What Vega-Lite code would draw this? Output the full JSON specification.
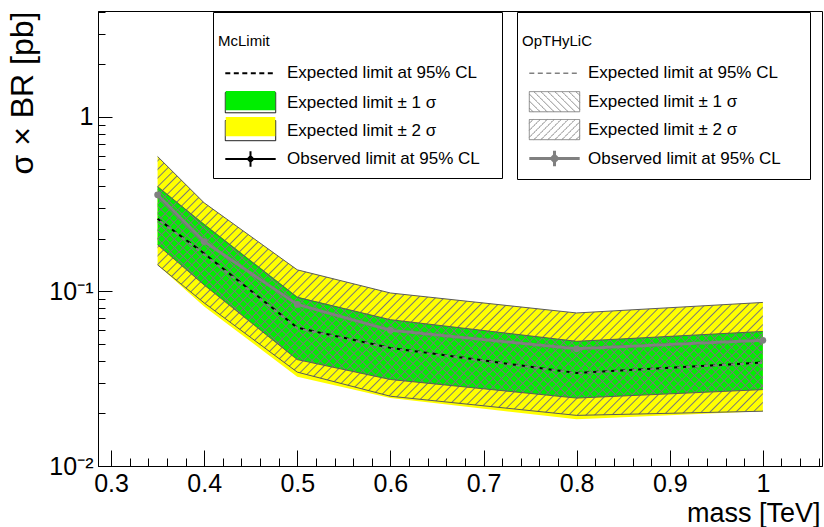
{
"$schema": "https://vega.github.io/schema/vega-lite/v6.json",
"width": 724,
"height": 455,
"autosize": {"type": "none"},
"padding": {"left": 98, "top": 11, "right": 2, "bottom": 61},
"background": "white",
"data": {"values": [
{"mass":0.35,"mc_2lo":0.142,"mc_1lo":0.185,"mc_exp":0.261,"mc_obs":0.358,"mc_1hi":0.399,"mc_2hi":0.593,"op_2lo":0.142,"op_1lo":0.185,"op_exp":0.259,"op_obs":0.358,"op_1hi":0.399,"op_2hi":0.593},
{"mass":0.4,"mc_2lo":0.082,"mc_1lo":0.109,"mc_exp":0.165,"mc_obs":0.193,"mc_1hi":0.244,"mc_2hi":0.322,"op_2lo":0.086,"op_1lo":0.109,"op_exp":0.163,"op_obs":0.193,"op_1hi":0.241,"op_2hi":0.322},
{"mass":0.5,"mc_2lo":0.0325,"mc_1lo":0.0407,"mc_exp":0.062,"mc_obs":0.0843,"mc_1hi":0.0933,"mc_2hi":0.133,"op_2lo":0.0345,"op_1lo":0.0407,"op_exp":0.0615,"op_obs":0.0843,"op_1hi":0.0925,"op_2hi":0.133},
{"mass":0.6,"mc_2lo":0.0245,"mc_1lo":0.0313,"mc_exp":0.0475,"mc_obs":0.0599,"mc_1hi":0.0689,"mc_2hi":0.098,"op_2lo":0.0251,"op_1lo":0.0313,"op_exp":0.0472,"op_obs":0.0599,"op_1hi":0.0689,"op_2hi":0.098},
{"mass":0.8,"mc_2lo":0.0185,"mc_1lo":0.0245,"mc_exp":0.0341,"mc_obs":0.0469,"mc_1hi":0.0518,"mc_2hi":0.0753,"op_2lo":0.0195,"op_1lo":0.0245,"op_exp":0.034,"op_obs":0.0469,"op_1hi":0.0518,"op_2hi":0.0753},
{"mass":1.0,"mc_2lo":0.0206,"mc_1lo":0.0274,"mc_exp":0.0392,"mc_obs":0.0525,"mc_1hi":0.059,"mc_2hi":0.0865,"op_2lo":0.0206,"op_1lo":0.0274,"op_exp":0.039,"op_obs":0.0525,"op_1hi":0.059,"op_2hi":0.0865}
]},
"resolve": {"scale": {"fill": "independent", "stroke": "independent", "shape": "independent", "strokeDash": "independent", "strokeWidth": "independent"}},
"layer": [
{"mark": {"type": "area", "fill": "#ffff00"},
 "encoding": {
  "x": {"field": "mass", "type": "quantitative", "scale": {"domain": [0.286, 1.0635], "nice": false, "zero": false}, "title": "mass [TeV]",
   "axis": {"values": [0.3,0.32,0.34,0.36,0.38,0.4,0.42,0.44,0.46,0.48,0.5,0.52,0.54,0.56,0.58,0.6,0.62,0.64,0.66,0.68,0.7,0.72,0.74,0.76,0.78,0.8,0.82,0.84,0.86,0.88,0.9,0.92,0.94,0.96,0.98,1,1.02,1.04,1.06],
    "tickCount": 200,
    "labelExpr": "abs(datum.value*10-round(datum.value*10))<0.001 ? format(datum.value, '.1~f') : ''",
    "labelOverlap": false,
    "tickSize": {"condition": {"test": "abs(datum.value*10-round(datum.value*10))<0.001", "value": -16}, "value": -8},
    "labelPadding": 21, "titleAlign": "right", "titleAnchor": "end", "titleBaseline": "alphabetic", "titleX": 722, "titleY": 55, "titleFontSize": 27}},
  "y": {"field": "mc_2lo", "type": "quantitative", "scale": {"type": "log", "domain": [0.01, 4.044], "nice": false}, "title": "σ × BR [pb]",
   "axis": {"values": [0.01,0.02,0.03,0.04,0.05,0.06,0.07,0.08,0.09,0.1,0.2,0.3,0.4,0.5,0.6,0.7,0.8,0.9,1,2,3,4],
    "tickCount": 200,
    "labelExpr": "datum.value === 1 ? '1' : datum.value === 0.1 ? '10⁻¹' : datum.value === 0.01 ? '10⁻²' : ''",
    "labelOverlap": false,
    "tickSize": {"condition": {"test": "datum.value === 1 || datum.value === 0.1 || datum.value === 0.01", "value": -14}, "value": -7},
    "labelPadding": 19, "titleAngle": -90, "titleAlign": "right", "titleAnchor": "end", "titleBaseline": "middle", "titleX": -76, "titleY": 0, "titleFontSize": 32}},
  "y2": {"field": "mc_2hi"}}},
{"mark": {"type": "area", "fill": "#00ee00"},
 "encoding": {
  "x": {"field": "mass", "type": "quantitative", "scale": {"domain": [0.286, 1.0635], "nice": false, "zero": false}, "title": "mass [TeV]"},
  "y": {"field": "mc_1lo", "type": "quantitative", "scale": {"type": "log", "domain": [0.01, 4.044], "nice": false}, "title": "σ × BR [pb]"},
  "y2": {"field": "mc_1hi"}}},
{"mark": {"type": "area", "fill": {"gradient": "linear", "x1": 0, "y1": 0, "x2": 1.2069, "y2": 0.5162, "stops": [
{"offset":0.0034,"color":"#7770"},{"offset":0.005,"color":"#777"},{"offset":0.0066,"color":"#7770"},
{"offset":0.0134,"color":"#7770"},{"offset":0.015,"color":"#777"},{"offset":0.0166,"color":"#7770"},
{"offset":0.0234,"color":"#7770"},{"offset":0.025,"color":"#777"},{"offset":0.0266,"color":"#7770"},
{"offset":0.0334,"color":"#7770"},{"offset":0.035,"color":"#777"},{"offset":0.0366,"color":"#7770"},
{"offset":0.0434,"color":"#7770"},{"offset":0.045,"color":"#777"},{"offset":0.0466,"color":"#7770"},
{"offset":0.0534,"color":"#7770"},{"offset":0.055,"color":"#777"},{"offset":0.0566,"color":"#7770"},
{"offset":0.0634,"color":"#7770"},{"offset":0.065,"color":"#777"},{"offset":0.0666,"color":"#7770"},
{"offset":0.0734,"color":"#7770"},{"offset":0.075,"color":"#777"},{"offset":0.0766,"color":"#7770"},
{"offset":0.0834,"color":"#7770"},{"offset":0.085,"color":"#777"},{"offset":0.0866,"color":"#7770"},
{"offset":0.0934,"color":"#7770"},{"offset":0.095,"color":"#777"},{"offset":0.0966,"color":"#7770"},
{"offset":0.1034,"color":"#7770"},{"offset":0.105,"color":"#777"},{"offset":0.1066,"color":"#7770"},
{"offset":0.1134,"color":"#7770"},{"offset":0.115,"color":"#777"},{"offset":0.1166,"color":"#7770"},
{"offset":0.1234,"color":"#7770"},{"offset":0.125,"color":"#777"},{"offset":0.1266,"color":"#7770"},
{"offset":0.1334,"color":"#7770"},{"offset":0.135,"color":"#777"},{"offset":0.1366,"color":"#7770"},
{"offset":0.1434,"color":"#7770"},{"offset":0.145,"color":"#777"},{"offset":0.1466,"color":"#7770"},
{"offset":0.1534,"color":"#7770"},{"offset":0.155,"color":"#777"},{"offset":0.1566,"color":"#7770"},
{"offset":0.1634,"color":"#7770"},{"offset":0.165,"color":"#777"},{"offset":0.1666,"color":"#7770"},
{"offset":0.1734,"color":"#7770"},{"offset":0.175,"color":"#777"},{"offset":0.1766,"color":"#7770"},
{"offset":0.1834,"color":"#7770"},{"offset":0.185,"color":"#777"},{"offset":0.1866,"color":"#7770"},
{"offset":0.1934,"color":"#7770"},{"offset":0.195,"color":"#777"},{"offset":0.1966,"color":"#7770"},
{"offset":0.2034,"color":"#7770"},{"offset":0.205,"color":"#777"},{"offset":0.2066,"color":"#7770"},
{"offset":0.2134,"color":"#7770"},{"offset":0.215,"color":"#777"},{"offset":0.2166,"color":"#7770"},
{"offset":0.2234,"color":"#7770"},{"offset":0.225,"color":"#777"},{"offset":0.2266,"color":"#7770"},
{"offset":0.2334,"color":"#7770"},{"offset":0.235,"color":"#777"},{"offset":0.2366,"color":"#7770"},
{"offset":0.2434,"color":"#7770"},{"offset":0.245,"color":"#777"},{"offset":0.2466,"color":"#7770"},
{"offset":0.2534,"color":"#7770"},{"offset":0.255,"color":"#777"},{"offset":0.2566,"color":"#7770"},
{"offset":0.2634,"color":"#7770"},{"offset":0.265,"color":"#777"},{"offset":0.2666,"color":"#7770"},
{"offset":0.2734,"color":"#7770"},{"offset":0.275,"color":"#777"},{"offset":0.2766,"color":"#7770"},
{"offset":0.2834,"color":"#7770"},{"offset":0.285,"color":"#777"},{"offset":0.2866,"color":"#7770"},
{"offset":0.2934,"color":"#7770"},{"offset":0.295,"color":"#777"},{"offset":0.2966,"color":"#7770"},
{"offset":0.3034,"color":"#7770"},{"offset":0.305,"color":"#777"},{"offset":0.3066,"color":"#7770"},
{"offset":0.3134,"color":"#7770"},{"offset":0.315,"color":"#777"},{"offset":0.3166,"color":"#7770"},
{"offset":0.3234,"color":"#7770"},{"offset":0.325,"color":"#777"},{"offset":0.3266,"color":"#7770"},
{"offset":0.3334,"color":"#7770"},{"offset":0.335,"color":"#777"},{"offset":0.3366,"color":"#7770"},
{"offset":0.3434,"color":"#7770"},{"offset":0.345,"color":"#777"},{"offset":0.3466,"color":"#7770"},
{"offset":0.3534,"color":"#7770"},{"offset":0.355,"color":"#777"},{"offset":0.3566,"color":"#7770"},
{"offset":0.3634,"color":"#7770"},{"offset":0.365,"color":"#777"},{"offset":0.3666,"color":"#7770"},
{"offset":0.3734,"color":"#7770"},{"offset":0.375,"color":"#777"},{"offset":0.3766,"color":"#7770"},
{"offset":0.3834,"color":"#7770"},{"offset":0.385,"color":"#777"},{"offset":0.3866,"color":"#7770"},
{"offset":0.3934,"color":"#7770"},{"offset":0.395,"color":"#777"},{"offset":0.3966,"color":"#7770"},
{"offset":0.4034,"color":"#7770"},{"offset":0.405,"color":"#777"},{"offset":0.4066,"color":"#7770"},
{"offset":0.4134,"color":"#7770"},{"offset":0.415,"color":"#777"},{"offset":0.4166,"color":"#7770"},
{"offset":0.4234,"color":"#7770"},{"offset":0.425,"color":"#777"},{"offset":0.4266,"color":"#7770"},
{"offset":0.4334,"color":"#7770"},{"offset":0.435,"color":"#777"},{"offset":0.4366,"color":"#7770"},
{"offset":0.4434,"color":"#7770"},{"offset":0.445,"color":"#777"},{"offset":0.4466,"color":"#7770"},
{"offset":0.4534,"color":"#7770"},{"offset":0.455,"color":"#777"},{"offset":0.4566,"color":"#7770"},
{"offset":0.4634,"color":"#7770"},{"offset":0.465,"color":"#777"},{"offset":0.4666,"color":"#7770"},
{"offset":0.4734,"color":"#7770"},{"offset":0.475,"color":"#777"},{"offset":0.4766,"color":"#7770"},
{"offset":0.4834,"color":"#7770"},{"offset":0.485,"color":"#777"},{"offset":0.4866,"color":"#7770"},
{"offset":0.4934,"color":"#7770"},{"offset":0.495,"color":"#777"},{"offset":0.4966,"color":"#7770"},
{"offset":0.5034,"color":"#7770"},{"offset":0.505,"color":"#777"},{"offset":0.5066,"color":"#7770"},
{"offset":0.5134,"color":"#7770"},{"offset":0.515,"color":"#777"},{"offset":0.5166,"color":"#7770"},
{"offset":0.5234,"color":"#7770"},{"offset":0.525,"color":"#777"},{"offset":0.5266,"color":"#7770"},
{"offset":0.5334,"color":"#7770"},{"offset":0.535,"color":"#777"},{"offset":0.5366,"color":"#7770"},
{"offset":0.5434,"color":"#7770"},{"offset":0.545,"color":"#777"},{"offset":0.5466,"color":"#7770"},
{"offset":0.5534,"color":"#7770"},{"offset":0.555,"color":"#777"},{"offset":0.5566,"color":"#7770"},
{"offset":0.5634,"color":"#7770"},{"offset":0.565,"color":"#777"},{"offset":0.5666,"color":"#7770"},
{"offset":0.5734,"color":"#7770"},{"offset":0.575,"color":"#777"},{"offset":0.5766,"color":"#7770"},
{"offset":0.5834,"color":"#7770"},{"offset":0.585,"color":"#777"},{"offset":0.5866,"color":"#7770"},
{"offset":0.5934,"color":"#7770"},{"offset":0.595,"color":"#777"},{"offset":0.5966,"color":"#7770"},
{"offset":0.6034,"color":"#7770"},{"offset":0.605,"color":"#777"},{"offset":0.6066,"color":"#7770"},
{"offset":0.6134,"color":"#7770"},{"offset":0.615,"color":"#777"},{"offset":0.6166,"color":"#7770"},
{"offset":0.6234,"color":"#7770"},{"offset":0.625,"color":"#777"},{"offset":0.6266,"color":"#7770"},
{"offset":0.6334,"color":"#7770"},{"offset":0.635,"color":"#777"},{"offset":0.6366,"color":"#7770"},
{"offset":0.6434,"color":"#7770"},{"offset":0.645,"color":"#777"},{"offset":0.6466,"color":"#7770"},
{"offset":0.6534,"color":"#7770"},{"offset":0.655,"color":"#777"},{"offset":0.6566,"color":"#7770"},
{"offset":0.6634,"color":"#7770"},{"offset":0.665,"color":"#777"},{"offset":0.6666,"color":"#7770"},
{"offset":0.6734,"color":"#7770"},{"offset":0.675,"color":"#777"},{"offset":0.6766,"color":"#7770"},
{"offset":0.6834,"color":"#7770"},{"offset":0.685,"color":"#777"},{"offset":0.6866,"color":"#7770"},
{"offset":0.6934,"color":"#7770"},{"offset":0.695,"color":"#777"},{"offset":0.6966,"color":"#7770"},
{"offset":0.7034,"color":"#7770"},{"offset":0.705,"color":"#777"},{"offset":0.7066,"color":"#7770"},
{"offset":0.7134,"color":"#7770"},{"offset":0.715,"color":"#777"},{"offset":0.7166,"color":"#7770"},
{"offset":0.7234,"color":"#7770"},{"offset":0.725,"color":"#777"},{"offset":0.7266,"color":"#7770"},
{"offset":0.7334,"color":"#7770"},{"offset":0.735,"color":"#777"},{"offset":0.7366,"color":"#7770"},
{"offset":0.7434,"color":"#7770"},{"offset":0.745,"color":"#777"},{"offset":0.7466,"color":"#7770"},
{"offset":0.7534,"color":"#7770"},{"offset":0.755,"color":"#777"},{"offset":0.7566,"color":"#7770"},
{"offset":0.7634,"color":"#7770"},{"offset":0.765,"color":"#777"},{"offset":0.7666,"color":"#7770"},
{"offset":0.7734,"color":"#7770"},{"offset":0.775,"color":"#777"},{"offset":0.7766,"color":"#7770"},
{"offset":0.7834,"color":"#7770"},{"offset":0.785,"color":"#777"},{"offset":0.7866,"color":"#7770"},
{"offset":0.7934,"color":"#7770"},{"offset":0.795,"color":"#777"},{"offset":0.7966,"color":"#7770"},
{"offset":0.8034,"color":"#7770"},{"offset":0.805,"color":"#777"},{"offset":0.8066,"color":"#7770"},
{"offset":0.8134,"color":"#7770"},{"offset":0.815,"color":"#777"},{"offset":0.8166,"color":"#7770"},
{"offset":0.8234,"color":"#7770"},{"offset":0.825,"color":"#777"},{"offset":0.8266,"color":"#7770"},
{"offset":0.8334,"color":"#7770"},{"offset":0.835,"color":"#777"},{"offset":0.8366,"color":"#7770"},
{"offset":0.8434,"color":"#7770"},{"offset":0.845,"color":"#777"},{"offset":0.8466,"color":"#7770"},
{"offset":0.8534,"color":"#7770"},{"offset":0.855,"color":"#777"},{"offset":0.8566,"color":"#7770"},
{"offset":0.8634,"color":"#7770"},{"offset":0.865,"color":"#777"},{"offset":0.8666,"color":"#7770"},
{"offset":0.8734,"color":"#7770"},{"offset":0.875,"color":"#777"},{"offset":0.8766,"color":"#7770"},
{"offset":0.8834,"color":"#7770"},{"offset":0.885,"color":"#777"},{"offset":0.8866,"color":"#7770"},
{"offset":0.8934,"color":"#7770"},{"offset":0.895,"color":"#777"},{"offset":0.8966,"color":"#7770"},
{"offset":0.9034,"color":"#7770"},{"offset":0.905,"color":"#777"},{"offset":0.9066,"color":"#7770"},
{"offset":0.9134,"color":"#7770"},{"offset":0.915,"color":"#777"},{"offset":0.9166,"color":"#7770"},
{"offset":0.9234,"color":"#7770"},{"offset":0.925,"color":"#777"},{"offset":0.9266,"color":"#7770"},
{"offset":0.9334,"color":"#7770"},{"offset":0.935,"color":"#777"},{"offset":0.9366,"color":"#7770"},
{"offset":0.9434,"color":"#7770"},{"offset":0.945,"color":"#777"},{"offset":0.9466,"color":"#7770"},
{"offset":0.9534,"color":"#7770"},{"offset":0.955,"color":"#777"},{"offset":0.9566,"color":"#7770"},
{"offset":0.9634,"color":"#7770"},{"offset":0.965,"color":"#777"},{"offset":0.9666,"color":"#7770"},
{"offset":0.9734,"color":"#7770"},{"offset":0.975,"color":"#777"},{"offset":0.9766,"color":"#7770"},
{"offset":0.9834,"color":"#7770"},{"offset":0.985,"color":"#777"},{"offset":0.9866,"color":"#7770"},
{"offset":0.9934,"color":"#7770"},{"offset":0.995,"color":"#777"},{"offset":0.9966,"color":"#7770"}
]}},
 "encoding": {
  "x": {"field": "mass", "type": "quantitative", "scale": {"domain": [0.286, 1.0635], "nice": false, "zero": false}, "title": "mass [TeV]"},
  "y": {"field": "op_2lo", "type": "quantitative", "scale": {"type": "log", "domain": [0.01, 4.044], "nice": false}, "title": "σ × BR [pb]"},
  "y2": {"field": "op_2hi"}}},
{"mark": {"type": "area", "fill": {"gradient": "linear", "x1": 0, "y1": 1, "x2": 1.2026, "y2": 0.5798, "stops": [
{"offset":0.0034,"color":"#7770"},{"offset":0.005,"color":"#777"},{"offset":0.0066,"color":"#7770"},
{"offset":0.0134,"color":"#7770"},{"offset":0.015,"color":"#777"},{"offset":0.0166,"color":"#7770"},
{"offset":0.0234,"color":"#7770"},{"offset":0.025,"color":"#777"},{"offset":0.0266,"color":"#7770"},
{"offset":0.0334,"color":"#7770"},{"offset":0.035,"color":"#777"},{"offset":0.0366,"color":"#7770"},
{"offset":0.0434,"color":"#7770"},{"offset":0.045,"color":"#777"},{"offset":0.0466,"color":"#7770"},
{"offset":0.0534,"color":"#7770"},{"offset":0.055,"color":"#777"},{"offset":0.0566,"color":"#7770"},
{"offset":0.0634,"color":"#7770"},{"offset":0.065,"color":"#777"},{"offset":0.0666,"color":"#7770"},
{"offset":0.0734,"color":"#7770"},{"offset":0.075,"color":"#777"},{"offset":0.0766,"color":"#7770"},
{"offset":0.0834,"color":"#7770"},{"offset":0.085,"color":"#777"},{"offset":0.0866,"color":"#7770"},
{"offset":0.0934,"color":"#7770"},{"offset":0.095,"color":"#777"},{"offset":0.0966,"color":"#7770"},
{"offset":0.1034,"color":"#7770"},{"offset":0.105,"color":"#777"},{"offset":0.1066,"color":"#7770"},
{"offset":0.1134,"color":"#7770"},{"offset":0.115,"color":"#777"},{"offset":0.1166,"color":"#7770"},
{"offset":0.1234,"color":"#7770"},{"offset":0.125,"color":"#777"},{"offset":0.1266,"color":"#7770"},
{"offset":0.1334,"color":"#7770"},{"offset":0.135,"color":"#777"},{"offset":0.1366,"color":"#7770"},
{"offset":0.1434,"color":"#7770"},{"offset":0.145,"color":"#777"},{"offset":0.1466,"color":"#7770"},
{"offset":0.1534,"color":"#7770"},{"offset":0.155,"color":"#777"},{"offset":0.1566,"color":"#7770"},
{"offset":0.1634,"color":"#7770"},{"offset":0.165,"color":"#777"},{"offset":0.1666,"color":"#7770"},
{"offset":0.1734,"color":"#7770"},{"offset":0.175,"color":"#777"},{"offset":0.1766,"color":"#7770"},
{"offset":0.1834,"color":"#7770"},{"offset":0.185,"color":"#777"},{"offset":0.1866,"color":"#7770"},
{"offset":0.1934,"color":"#7770"},{"offset":0.195,"color":"#777"},{"offset":0.1966,"color":"#7770"},
{"offset":0.2034,"color":"#7770"},{"offset":0.205,"color":"#777"},{"offset":0.2066,"color":"#7770"},
{"offset":0.2134,"color":"#7770"},{"offset":0.215,"color":"#777"},{"offset":0.2166,"color":"#7770"},
{"offset":0.2234,"color":"#7770"},{"offset":0.225,"color":"#777"},{"offset":0.2266,"color":"#7770"},
{"offset":0.2334,"color":"#7770"},{"offset":0.235,"color":"#777"},{"offset":0.2366,"color":"#7770"},
{"offset":0.2434,"color":"#7770"},{"offset":0.245,"color":"#777"},{"offset":0.2466,"color":"#7770"},
{"offset":0.2534,"color":"#7770"},{"offset":0.255,"color":"#777"},{"offset":0.2566,"color":"#7770"},
{"offset":0.2634,"color":"#7770"},{"offset":0.265,"color":"#777"},{"offset":0.2666,"color":"#7770"},
{"offset":0.2734,"color":"#7770"},{"offset":0.275,"color":"#777"},{"offset":0.2766,"color":"#7770"},
{"offset":0.2834,"color":"#7770"},{"offset":0.285,"color":"#777"},{"offset":0.2866,"color":"#7770"},
{"offset":0.2934,"color":"#7770"},{"offset":0.295,"color":"#777"},{"offset":0.2966,"color":"#7770"},
{"offset":0.3034,"color":"#7770"},{"offset":0.305,"color":"#777"},{"offset":0.3066,"color":"#7770"},
{"offset":0.3134,"color":"#7770"},{"offset":0.315,"color":"#777"},{"offset":0.3166,"color":"#7770"},
{"offset":0.3234,"color":"#7770"},{"offset":0.325,"color":"#777"},{"offset":0.3266,"color":"#7770"},
{"offset":0.3334,"color":"#7770"},{"offset":0.335,"color":"#777"},{"offset":0.3366,"color":"#7770"},
{"offset":0.3434,"color":"#7770"},{"offset":0.345,"color":"#777"},{"offset":0.3466,"color":"#7770"},
{"offset":0.3534,"color":"#7770"},{"offset":0.355,"color":"#777"},{"offset":0.3566,"color":"#7770"},
{"offset":0.3634,"color":"#7770"},{"offset":0.365,"color":"#777"},{"offset":0.3666,"color":"#7770"},
{"offset":0.3734,"color":"#7770"},{"offset":0.375,"color":"#777"},{"offset":0.3766,"color":"#7770"},
{"offset":0.3834,"color":"#7770"},{"offset":0.385,"color":"#777"},{"offset":0.3866,"color":"#7770"},
{"offset":0.3934,"color":"#7770"},{"offset":0.395,"color":"#777"},{"offset":0.3966,"color":"#7770"},
{"offset":0.4034,"color":"#7770"},{"offset":0.405,"color":"#777"},{"offset":0.4066,"color":"#7770"},
{"offset":0.4134,"color":"#7770"},{"offset":0.415,"color":"#777"},{"offset":0.4166,"color":"#7770"},
{"offset":0.4234,"color":"#7770"},{"offset":0.425,"color":"#777"},{"offset":0.4266,"color":"#7770"},
{"offset":0.4334,"color":"#7770"},{"offset":0.435,"color":"#777"},{"offset":0.4366,"color":"#7770"},
{"offset":0.4434,"color":"#7770"},{"offset":0.445,"color":"#777"},{"offset":0.4466,"color":"#7770"},
{"offset":0.4534,"color":"#7770"},{"offset":0.455,"color":"#777"},{"offset":0.4566,"color":"#7770"},
{"offset":0.4634,"color":"#7770"},{"offset":0.465,"color":"#777"},{"offset":0.4666,"color":"#7770"},
{"offset":0.4734,"color":"#7770"},{"offset":0.475,"color":"#777"},{"offset":0.4766,"color":"#7770"},
{"offset":0.4834,"color":"#7770"},{"offset":0.485,"color":"#777"},{"offset":0.4866,"color":"#7770"},
{"offset":0.4934,"color":"#7770"},{"offset":0.495,"color":"#777"},{"offset":0.4966,"color":"#7770"},
{"offset":0.5034,"color":"#7770"},{"offset":0.505,"color":"#777"},{"offset":0.5066,"color":"#7770"},
{"offset":0.5134,"color":"#7770"},{"offset":0.515,"color":"#777"},{"offset":0.5166,"color":"#7770"},
{"offset":0.5234,"color":"#7770"},{"offset":0.525,"color":"#777"},{"offset":0.5266,"color":"#7770"},
{"offset":0.5334,"color":"#7770"},{"offset":0.535,"color":"#777"},{"offset":0.5366,"color":"#7770"},
{"offset":0.5434,"color":"#7770"},{"offset":0.545,"color":"#777"},{"offset":0.5466,"color":"#7770"},
{"offset":0.5534,"color":"#7770"},{"offset":0.555,"color":"#777"},{"offset":0.5566,"color":"#7770"},
{"offset":0.5634,"color":"#7770"},{"offset":0.565,"color":"#777"},{"offset":0.5666,"color":"#7770"},
{"offset":0.5734,"color":"#7770"},{"offset":0.575,"color":"#777"},{"offset":0.5766,"color":"#7770"},
{"offset":0.5834,"color":"#7770"},{"offset":0.585,"color":"#777"},{"offset":0.5866,"color":"#7770"},
{"offset":0.5934,"color":"#7770"},{"offset":0.595,"color":"#777"},{"offset":0.5966,"color":"#7770"},
{"offset":0.6034,"color":"#7770"},{"offset":0.605,"color":"#777"},{"offset":0.6066,"color":"#7770"},
{"offset":0.6134,"color":"#7770"},{"offset":0.615,"color":"#777"},{"offset":0.6166,"color":"#7770"},
{"offset":0.6234,"color":"#7770"},{"offset":0.625,"color":"#777"},{"offset":0.6266,"color":"#7770"},
{"offset":0.6334,"color":"#7770"},{"offset":0.635,"color":"#777"},{"offset":0.6366,"color":"#7770"},
{"offset":0.6434,"color":"#7770"},{"offset":0.645,"color":"#777"},{"offset":0.6466,"color":"#7770"},
{"offset":0.6534,"color":"#7770"},{"offset":0.655,"color":"#777"},{"offset":0.6566,"color":"#7770"},
{"offset":0.6634,"color":"#7770"},{"offset":0.665,"color":"#777"},{"offset":0.6666,"color":"#7770"},
{"offset":0.6734,"color":"#7770"},{"offset":0.675,"color":"#777"},{"offset":0.6766,"color":"#7770"},
{"offset":0.6834,"color":"#7770"},{"offset":0.685,"color":"#777"},{"offset":0.6866,"color":"#7770"},
{"offset":0.6934,"color":"#7770"},{"offset":0.695,"color":"#777"},{"offset":0.6966,"color":"#7770"},
{"offset":0.7034,"color":"#7770"},{"offset":0.705,"color":"#777"},{"offset":0.7066,"color":"#7770"},
{"offset":0.7134,"color":"#7770"},{"offset":0.715,"color":"#777"},{"offset":0.7166,"color":"#7770"},
{"offset":0.7234,"color":"#7770"},{"offset":0.725,"color":"#777"},{"offset":0.7266,"color":"#7770"},
{"offset":0.7334,"color":"#7770"},{"offset":0.735,"color":"#777"},{"offset":0.7366,"color":"#7770"},
{"offset":0.7434,"color":"#7770"},{"offset":0.745,"color":"#777"},{"offset":0.7466,"color":"#7770"},
{"offset":0.7534,"color":"#7770"},{"offset":0.755,"color":"#777"},{"offset":0.7566,"color":"#7770"},
{"offset":0.7634,"color":"#7770"},{"offset":0.765,"color":"#777"},{"offset":0.7666,"color":"#7770"},
{"offset":0.7734,"color":"#7770"},{"offset":0.775,"color":"#777"},{"offset":0.7766,"color":"#7770"},
{"offset":0.7834,"color":"#7770"},{"offset":0.785,"color":"#777"},{"offset":0.7866,"color":"#7770"},
{"offset":0.7934,"color":"#7770"},{"offset":0.795,"color":"#777"},{"offset":0.7966,"color":"#7770"},
{"offset":0.8034,"color":"#7770"},{"offset":0.805,"color":"#777"},{"offset":0.8066,"color":"#7770"},
{"offset":0.8134,"color":"#7770"},{"offset":0.815,"color":"#777"},{"offset":0.8166,"color":"#7770"},
{"offset":0.8234,"color":"#7770"},{"offset":0.825,"color":"#777"},{"offset":0.8266,"color":"#7770"},
{"offset":0.8334,"color":"#7770"},{"offset":0.835,"color":"#777"},{"offset":0.8366,"color":"#7770"},
{"offset":0.8434,"color":"#7770"},{"offset":0.845,"color":"#777"},{"offset":0.8466,"color":"#7770"},
{"offset":0.8534,"color":"#7770"},{"offset":0.855,"color":"#777"},{"offset":0.8566,"color":"#7770"},
{"offset":0.8634,"color":"#7770"},{"offset":0.865,"color":"#777"},{"offset":0.8666,"color":"#7770"},
{"offset":0.8734,"color":"#7770"},{"offset":0.875,"color":"#777"},{"offset":0.8766,"color":"#7770"},
{"offset":0.8834,"color":"#7770"},{"offset":0.885,"color":"#777"},{"offset":0.8866,"color":"#7770"},
{"offset":0.8934,"color":"#7770"},{"offset":0.895,"color":"#777"},{"offset":0.8966,"color":"#7770"},
{"offset":0.9034,"color":"#7770"},{"offset":0.905,"color":"#777"},{"offset":0.9066,"color":"#7770"},
{"offset":0.9134,"color":"#7770"},{"offset":0.915,"color":"#777"},{"offset":0.9166,"color":"#7770"},
{"offset":0.9234,"color":"#7770"},{"offset":0.925,"color":"#777"},{"offset":0.9266,"color":"#7770"},
{"offset":0.9334,"color":"#7770"},{"offset":0.935,"color":"#777"},{"offset":0.9366,"color":"#7770"},
{"offset":0.9434,"color":"#7770"},{"offset":0.945,"color":"#777"},{"offset":0.9466,"color":"#7770"},
{"offset":0.9534,"color":"#7770"},{"offset":0.955,"color":"#777"},{"offset":0.9566,"color":"#7770"},
{"offset":0.9634,"color":"#7770"},{"offset":0.965,"color":"#777"},{"offset":0.9666,"color":"#7770"},
{"offset":0.9734,"color":"#7770"},{"offset":0.975,"color":"#777"},{"offset":0.9766,"color":"#7770"},
{"offset":0.9834,"color":"#7770"},{"offset":0.985,"color":"#777"},{"offset":0.9866,"color":"#7770"},
{"offset":0.9934,"color":"#7770"},{"offset":0.995,"color":"#777"},{"offset":0.9966,"color":"#7770"}
]}},
 "encoding": {
  "x": {"field": "mass", "type": "quantitative", "scale": {"domain": [0.286, 1.0635], "nice": false, "zero": false}, "title": "mass [TeV]"},
  "y": {"field": "op_1lo", "type": "quantitative", "scale": {"type": "log", "domain": [0.01, 4.044], "nice": false}, "title": "σ × BR [pb]"},
  "y2": {"field": "op_1hi"}}},
{"mark": {"type": "line", "color": "#5a5a5a", "strokeWidth": 1},
 "encoding": {
  "x": {"field": "mass", "type": "quantitative", "scale": {"domain": [0.286, 1.0635], "nice": false, "zero": false}, "title": "mass [TeV]"},
  "y": {"field": "op_2hi", "type": "quantitative", "scale": {"type": "log", "domain": [0.01, 4.044], "nice": false}, "title": "σ × BR [pb]"}}},
{"mark": {"type": "line", "color": "#5a5a5a", "strokeWidth": 1},
 "encoding": {
  "x": {"field": "mass", "type": "quantitative", "scale": {"domain": [0.286, 1.0635], "nice": false, "zero": false}, "title": "mass [TeV]"},
  "y": {"field": "op_2lo", "type": "quantitative", "scale": {"type": "log", "domain": [0.01, 4.044], "nice": false}, "title": "σ × BR [pb]"}}},
{"mark": {"type": "line", "color": "#5a5a5a", "strokeWidth": 1},
 "encoding": {
  "x": {"field": "mass", "type": "quantitative", "scale": {"domain": [0.286, 1.0635], "nice": false, "zero": false}, "title": "mass [TeV]"},
  "y": {"field": "op_1hi", "type": "quantitative", "scale": {"type": "log", "domain": [0.01, 4.044], "nice": false}, "title": "σ × BR [pb]"}}},
{"mark": {"type": "line", "color": "#5a5a5a", "strokeWidth": 1},
 "encoding": {
  "x": {"field": "mass", "type": "quantitative", "scale": {"domain": [0.286, 1.0635], "nice": false, "zero": false}, "title": "mass [TeV]"},
  "y": {"field": "op_1lo", "type": "quantitative", "scale": {"type": "log", "domain": [0.01, 4.044], "nice": false}, "title": "σ × BR [pb]"}}},
{"mark": {"type": "line", "color": "black", "strokeWidth": 2, "strokeDash": [5, 4]},
 "encoding": {
  "x": {"field": "mass", "type": "quantitative", "scale": {"domain": [0.286, 1.0635], "nice": false, "zero": false}, "title": "mass [TeV]"},
  "y": {"field": "mc_exp", "type": "quantitative", "scale": {"type": "log", "domain": [0.01, 4.044], "nice": false}, "title": "σ × BR [pb]"}}},
{"mark": {"type": "line", "color": "#808080", "strokeWidth": 2, "strokeDash": [4, 5], "strokeDashOffset": 6},
 "encoding": {
  "x": {"field": "mass", "type": "quantitative", "scale": {"domain": [0.286, 1.0635], "nice": false, "zero": false}, "title": "mass [TeV]"},
  "y": {"field": "op_exp", "type": "quantitative", "scale": {"type": "log", "domain": [0.01, 4.044], "nice": false}, "title": "σ × BR [pb]"}}},
{"mark": {"type": "line", "color": "black", "strokeWidth": 2},
 "encoding": {
  "x": {"field": "mass", "type": "quantitative", "scale": {"domain": [0.286, 1.0635], "nice": false, "zero": false}, "title": "mass [TeV]"},
  "y": {"field": "mc_obs", "type": "quantitative", "scale": {"type": "log", "domain": [0.01, 4.044], "nice": false}, "title": "σ × BR [pb]"}}},
{"mark": {"type": "line", "color": "#808080", "strokeWidth": 3, "point": {"filled": true, "size": 45, "color": "#808080"}},
 "encoding": {
  "x": {"field": "mass", "type": "quantitative", "scale": {"domain": [0.286, 1.0635], "nice": false, "zero": false}, "title": "mass [TeV]"},
  "y": {"field": "op_obs", "type": "quantitative", "scale": {"type": "log", "domain": [0.01, 4.044], "nice": false}, "title": "σ × BR [pb]"}}},
{"data": {"values": [{"mc": "Expected limit at 95% CL"}, {"mc": "Expected limit ± 1 σ"}, {"mc": "Expected limit ± 2 σ"}, {"mc": "Observed limit at 95% CL"}]},
 "mark": {"type": "point", "opacity": 0},
 "encoding": {
  "stroke": {"field": "mc", "type": "ordinal", "scale": {"range": ["black", "black", "black", "black"]},
   "legend": {"title": ["", "McLimit"], "titleLineHeight": 17, "orient": "none", "legendX": 115, "legendY": 1, "direction": "vertical",
    "symbolSize": 784, "symbolOpacity": 1, "symbolFillColor": "transparent",
    "symbolOffset": 17.5, "labelOffset": 21.5, "rowPadding": 0.9, "padding": 5, "titlePadding": 9.3}},
  "shape": {"field": "mc", "type": "ordinal", "scale": {"range": [
    "M0,-0.684M0,0.684M17.31,0M-1.8,0H1.8",
    "M17.31,0M-1.8,-0.72H1.8V0.72H-1.8Z",
    "M17.31,0M-1.8,-0.72H1.8V0.72H-1.8Z",
    "M0,-0.684M0,0.684M17.31,0M-1.8,0H1.8M0,-0.55V0.55M-0.14,-0.06L-0.06,-0.14H0.06L0.14,-0.06V0.06L0.06,0.14H-0.06L-0.14,0.06Z"]}, "legend": {"title": ["", "McLimit"]}},
  "strokeDash": {"field": "mc", "type": "ordinal", "scale": {"range": [[5, 3.5], [1, 0], [1, 0], [1, 0]]}, "legend": {"title": ["", "McLimit"]}},
  "strokeWidth": {"field": "mc", "type": "ordinal", "scale": {"type": "ordinal", "range": [2, 1, 1, 2]}, "legend": {"title": ["", "McLimit"]}}
 }},
{"data": {"values": [{"mc": "Expected limit at 95% CL"}, {"mc": "Expected limit ± 1 σ"}, {"mc": "Expected limit ± 2 σ"}, {"mc": "Observed limit at 95% CL"}]},
 "mark": {"type": "point", "opacity": 0, "filled": true},
 "encoding": {
  "fill": {"field": "mc", "type": "ordinal", "scale": {"range": ["transparent", "#00ee00", "#ffff00", "transparent"]},
   "legend": {"title": ["", " "], "titleLineHeight": 17, "titleOpacity": 0, "labelOpacity": 0, "labelExpr": "''", "strokeColor": "transparent", "fillColor": "transparent",
    "orient": "none", "legendX": 115, "legendY": 1, "direction": "vertical",
    "symbolSize": 784, "symbolOpacity": 1, "symbolType": "M0,-0.757M0,0.757M-1.77,-0.69H1.77V0.69H-1.77Z", "symbolStrokeWidth": 0, "symbolStrokeColor": "transparent",
    "symbolOffset": 18.5, "labelOffset": 21.5, "rowPadding": 0.9, "padding": 5, "titlePadding": 11.8}}
 }},
{"data": {"values": [{"op": "Expected limit at 95% CL"}, {"op": "Expected limit ± 1 σ"}, {"op": "Expected limit ± 2 σ"}, {"op": "Observed limit at 95% CL"}]},
 "mark": {"type": "point", "opacity": 0},
 "encoding": {
  "stroke": {"field": "op", "type": "ordinal", "scale": {"range": ["#808080", "#808080", "#808080", "#808080"]},
   "legend": {"title": ["", "OpTHyLiC"], "titleLineHeight": 17, "orient": "none", "legendX": 419, "legendY": 1, "direction": "vertical",
    "symbolSize": 784, "symbolOpacity": 1, "symbolFillColor": "transparent",
    "symbolOffset": 17, "labelOffset": 18, "rowPadding": 0.9, "padding": 5, "titlePadding": 9.3}},
  "shape": {"field": "op", "type": "ordinal", "scale": {"range": [
    "M0,-0.702M0,0.702M17.41,0M-1.8,0H1.8",
    "M17.41,0M-1.8,-0.72H1.8V0.72H-1.8ZM-1.8,0.45L-1.53,0.72M-1.8,-0.05L-1.03,0.72M-1.8,-0.55L-0.53,0.72M-1.47,-0.72L-0.03,0.72M-0.97,-0.72L0.47,0.72M-0.47,-0.72L0.97,0.72M0.03,-0.72L1.47,0.72M0.53,-0.72L1.8,0.55M1.03,-0.72L1.8,0.05M1.53,-0.72L1.8,-0.45",
    "M17.41,0M-1.8,-0.72H1.8V0.72H-1.8ZM-1.8,-0.45L-1.53,-0.72M-1.8,0.05L-1.03,-0.72M-1.8,0.55L-0.53,-0.72M-1.47,0.72L-0.03,-0.72M-0.97,0.72L0.47,-0.72M-0.47,0.72L0.97,-0.72M0.03,0.72L1.47,-0.72M0.53,0.72L1.8,-0.55M1.03,0.72L1.8,-0.05M1.53,0.72L1.8,0.45",
    "M0,-0.649M0,0.649M17.41,0M-1.8,0H1.8M0,-0.55V0.55M-0.16,-0.07L-0.07,-0.16H0.07L0.16,-0.07V0.07L0.07,0.16H-0.07L-0.16,0.07Z"]}, "legend": {"title": ["", "OpTHyLiC"]}},
  "strokeDash": {"field": "op", "type": "ordinal", "scale": {"range": [[5, 3.5], [1, 0], [1, 0], [1, 0]]}, "legend": {"title": ["", "OpTHyLiC"]}},
  "strokeWidth": {"field": "op", "type": "ordinal", "scale": {"type": "ordinal", "range": [1.5, 1, 1, 3]}, "legend": {"title": ["", "OpTHyLiC"]}}
 }}
],
"config": {
 "view": {"stroke": "black", "strokeWidth": 1},
 "font": "Liberation Sans",
 "axis": {"grid": false, "domainColor": "black", "tickColor": "black", "tickWidth": 1, "labelColor": "black", "titleColor": "black",
  "labelFont": "Liberation Sans", "titleFont": "Liberation Sans", "labelFontSize": 25, "titleFontSize": 26, "titleFontWeight": "normal",
  "labelOverlap": false, "labelFlush": false, "labelBound": false},
 "legend": {"labelFont": "Liberation Sans", "labelFontSize": 17, "labelColor": "black", "labelLimit": 400,
  "titleFont": "Liberation Sans", "titleFontSize": 15, "titleFontWeight": "normal", "titleColor": "black",
  "strokeColor": "black", "fillColor": "white", "strokeWidth": 1}
}
}
